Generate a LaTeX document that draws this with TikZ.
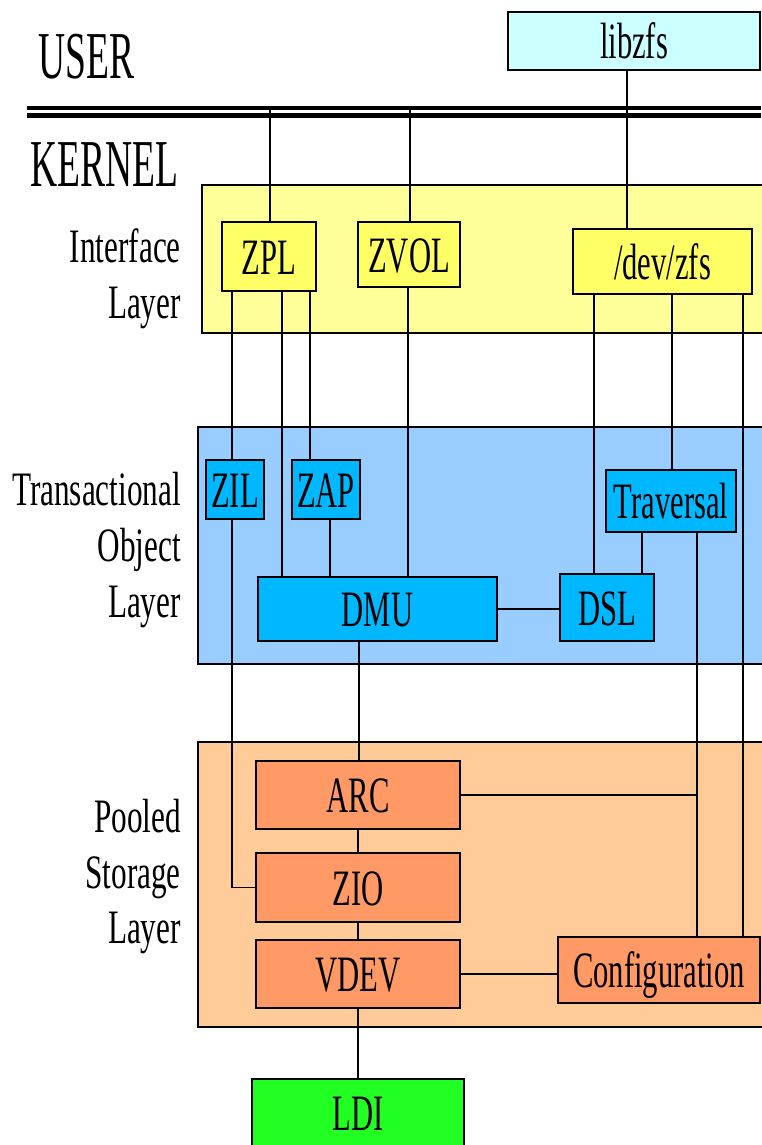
\documentclass[tikz,border=0pt]{standalone}
\usepackage{fontspec}
\setmainfont{Liberation Serif}
\newfontfamily\boxfnt[FakeStretch=0.6]{Liberation Serif}
\newfontfamily\lblfnt[FakeStretch=0.65]{Liberation Serif}
\newfontfamily\hdrfnt[FakeStretch=0.56]{Liberation Serif}
\definecolor{userc}{HTML}{CCFFFF}
\definecolor{ifl}{HTML}{FFFF99}
\definecolor{ifb}{HTML}{FFFF66}
\definecolor{tol}{HTML}{99CCFF}
\definecolor{tob}{HTML}{00B8FF}
\definecolor{psl}{HTML}{FFCC99}
\definecolor{psb}{HTML}{FF9966}
\definecolor{ldic}{HTML}{22FF22}
\begin{document}
\begin{tikzpicture}[x=1pt,y=-1pt,
  modbox/.style={draw,line width=2.6pt,inner sep=0pt,text height=35pt,text depth=0pt,
    font=\boxfnt\fontsize{51}{51}\selectfont},
  layerbox/.style={draw,line width=2.6pt},
  lbl/.style={anchor=base east,inner sep=0pt,font=\lblfnt\fontsize{48}{48}\selectfont},
  hdr/.style={anchor=base west,inner sep=0pt,font=\hdrfnt\fontsize{67}{67}\selectfont},
  wire/.style={line width=1.7pt}]
\useasboundingbox (0,0) rectangle (761,1145);

% layers
\filldraw[layerbox,fill=ifl] (202,185) rectangle (800,333);
\filldraw[layerbox,fill=tol] (198,427) rectangle (800,664);
\filldraw[layerbox,fill=psl] (198,742) rectangle (800,1027);

% user/kernel boundary
\draw[line width=4pt] (27,108) -- (761,108);
\draw[line width=5pt] (27,115.5) -- (761,115.5);

% headings
\node[hdr] (user) at (38,79) {USER};
\node[hdr] (kernel) at (30,186) {KERNEL};

% layer labels
\node[lbl] (l1a) at (181,262) {Interface};
\node[lbl] (l1b) at (181,318) {Layer};
\node[lbl] (l2a) at (181,505) {Transactional};
\node[lbl] (l2b) at (181,561) {Object};
\node[lbl] (l2c) at (181,617) {Layer};
\node[lbl] (l3a) at (181,832) {Pooled};
\node[lbl] (l3b) at (181,888) {Storage};
\node[lbl] (l3c) at (181,943) {Layer};

% modules
\node[modbox,fill=userc,minimum width=252pt,minimum height=58pt] (libzfs) at (634,41) {libzfs};
\node[modbox,fill=ifb,minimum width=94pt,minimum height=69pt] (zpl) at (269,256.5) {ZPL};
\node[modbox,fill=ifb,minimum width=102pt,minimum height=65pt] (zvol) at (409,254.5) {ZVOL};
\node[modbox,fill=ifb,minimum width=179pt,minimum height=65pt] (devzfs) at (662.5,261.5) {/dev/zfs};
\node[modbox,fill=tob,minimum width=58pt,minimum height=59pt] (zil) at (235,489.5) {ZIL};
\node[modbox,fill=tob,minimum width=68pt,minimum height=59pt] (zap) at (326,489.5) {ZAP};
\node[modbox,fill=tob,minimum width=130pt,minimum height=62pt] (trav) at (671,501) {Traversal};
\node[modbox,fill=tob,minimum width=239pt,minimum height=64pt] (dmu) at (377.5,609) {DMU};
\node[modbox,fill=tob,minimum width=94pt,minimum height=67pt] (dsl) at (607,607.5) {DSL};
\node[modbox,fill=psb,minimum width=204pt,minimum height=68pt] (arc) at (358,795) {ARC};
\node[modbox,fill=psb,minimum width=204pt,minimum height=69pt] (zio) at (358,887.5) {ZIO};
\node[modbox,fill=psb,minimum width=204pt,minimum height=68pt] (vdev) at (358,974) {VDEV};
\node[modbox,fill=psb,minimum width=202pt,minimum height=66pt] (config) at (659,970) {Configuration};
\node[modbox,fill=ldic,minimum width=212pt,minimum height=68pt] (ldi) at (358,1113) {LDI};

% x positions of vertical connectors
\coordinate (k1) at (270,110);
\coordinate (k2) at (410,110);
\coordinate (xu) at (627,0);
\coordinate (xa) at (232,0);
\coordinate (xb) at (282,0);
\coordinate (xc) at (310,0);
\coordinate (xd) at (408,0);
\coordinate (xe) at (594,0);
\coordinate (xf) at (672,0);
\coordinate (xg) at (743,0);
\coordinate (xh) at (330,0);
\coordinate (xi) at (642,0);
\coordinate (xj) at (697,0);
\coordinate (xk) at (359,0);

% connectors
\draw[wire] (k1) -- (k1 |- zpl.north);
\draw[wire] (k2) -- (k2 |- zvol.north);
\draw[wire] (libzfs.south -| xu) -- (devzfs.north -| xu);
\draw[wire] (zpl.south -| xa) -- (zil.north -| xa);
\draw[wire] (zpl.south -| xb) -- (dmu.north -| xb);
\draw[wire] (zpl.south -| xc) -- (zap.north -| xc);
\draw[wire] (zvol.south -| xd) -- (dmu.north -| xd);
\draw[wire] (devzfs.south -| xe) -- (dsl.north -| xe);
\draw[wire] (devzfs.south -| xf) -- (trav.north -| xf);
\draw[wire] (devzfs.south -| xg) -- (config.north -| xg);
\draw[wire] (zap.south -| xh) -- (dmu.north -| xh);
\draw[wire] (trav.south -| xi) -- (dsl.north -| xi);
\draw[wire] (trav.south -| xj) -- (config.north -| xj);
\draw[wire] (dmu.east) -- (dmu.east -| dsl.west);
\draw[wire] (zil.south -| xa) -- (xa |- zio.west) -- (zio.west);
\draw[wire] (dmu.south -| xk) -- (arc.north -| xk);
\draw[wire] (arc.east) -- (arc.east -| xj);
\draw[wire] (arc.south) -- (zio.north);
\draw[wire] (zio.south) -- (vdev.north);
\draw[wire] (vdev.east) -- (vdev.east -| config.west);
\draw[wire] (vdev.south) -- (ldi.north);
\end{tikzpicture}
\end{document}
